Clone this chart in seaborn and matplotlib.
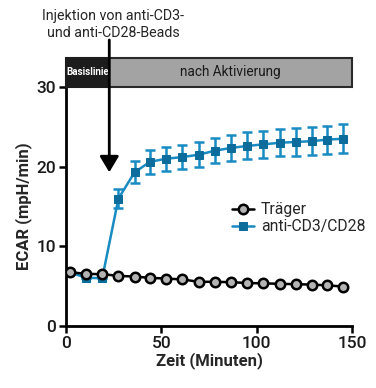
import matplotlib
matplotlib.use("Agg")
import matplotlib.pyplot as plt
import seaborn as sns
import pandas as pd
import numpy as np
from matplotlib.patches import Rectangle

time_min = [2, 10.5, 19, 27.5, 36, 44, 52.5, 61, 69.5, 78, 86.5, 95, 103.5, 112, 120.5, 129, 137, 145.5]
traeger = [6.75, 6.55, 6.5, 6.3, 6.2, 6.05, 5.95, 5.85, 5.55, 5.55, 5.5, 5.4, 5.35, 5.3, 5.25, 5.2, 5.1, 4.95]
cd3cd28 = [6.75, 6.05, 6.0, 16.0, 19.3, 20.6, 21.0, 21.2, 21.5, 22.0, 22.35, 22.6, 22.8, 23.0, 23.1, 23.2, 23.4, 23.5]
cd3cd28_err = [0, 0, 0, 1.2, 1.4, 1.5, 1.5, 1.5, 1.6, 1.6, 1.6, 1.7, 1.7, 1.7, 1.7, 1.75, 1.75, 1.8]
series_names = ["Träger", "anti-CD3/CD28"]
x_ticks = [0, 50, 100, 150]
y_ticks = [0, 10, 20, 30]
phase_labels = ["Basislinie", "nach Aktivierung"]
injection_time = 22.7

sns.set_theme(style="white")
plt.rcParams['font.family'] = ['Roboto', 'DejaVu Sans']

blue = "#0c6c9c"
blue_line = "#178bc2"

fig = plt.figure(figsize=(3.76, 3.88), dpi=100)
ax = fig.add_axes([66/376, 1-326/388, (352-66)/376, (326-87)/388])

df = pd.DataFrame({"t": time_min, series_names[0]: traeger, series_names[1]: cd3cd28})

ax.errorbar(time_min, cd3cd28, yerr=cd3cd28_err, fmt="none", ecolor=blue_line,
            elinewidth=1.8, capsize=3.5, capthick=1.8, zorder=2)
sns.lineplot(data=df, x="t", y=series_names[1], ax=ax, color=blue_line, lw=1.8,
             marker="s", markersize=6, markerfacecolor=blue, markeredgecolor=blue,
             label=series_names[1], zorder=3)
sns.lineplot(data=df, x="t", y=series_names[0], ax=ax, color="black", lw=1.8,
             marker="o", markersize=6.8, markerfacecolor="#b3b3b3", markeredgecolor="black",
             markeredgewidth=1.8, label=series_names[0], zorder=4)

ax.set_xlim(0, 150)
ax.set_ylim(0, 30)
ax.set_xticks(x_ticks)
ax.set_yticks(y_ticks)
for s in ["top", "right"]:
    ax.spines[s].set_visible(False)
for s in ["left", "bottom"]:
    ax.spines[s].set_linewidth(2)
    ax.spines[s].set_color("black")
ax.tick_params(axis="both", direction="out", length=5, width=1.8, color="black",
               labelsize=12.5, pad=2, left=True, bottom=True, labelcolor="#1a1a1a")
for lab in ax.get_xticklabels() + ax.get_yticklabels():
    lab.set_fontweight("medium")
ax.set_xlabel("Zeit (Minuten)", fontsize=12, fontweight="bold", labelpad=1)
ax.set_ylabel("ECAR (mpH/min)", fontsize=12, fontweight="bold", labelpad=3)

handles, labels = ax.get_legend_handles_labels()
order = [labels.index(series_names[0]), labels.index(series_names[1])]
ax.legend([handles[i] for i in order], [labels[i] for i in order],
          loc="upper left", bbox_to_anchor=(0.56, 0.545), frameon=False,
          fontsize=11.3, handlelength=1.4, handletextpad=0.4, labelspacing=0.15,
          borderaxespad=0)

# phase bar above the plot
y0, y1 = 30.05, 33.6
ax.add_patch(Rectangle((0, y0), injection_time, y1 - y0, facecolor="#1c1c1c",
                       edgecolor="#1c1c1c", lw=1.5, clip_on=False, zorder=5))
ax.add_patch(Rectangle((injection_time, y0), 150 - injection_time, y1 - y0,
                       facecolor="#a3a3a3", edgecolor="#2a2a2a", lw=1.5,
                       clip_on=False, zorder=5))
ax.text(injection_time / 2, (y0 + y1) / 2, phase_labels[0], color="white",
        fontsize=7, fontweight="bold", ha="center", va="center", zorder=6)
ax.text((injection_time + 150) / 2, (y0 + y1) / 2, phase_labels[1], color="#1a1a1a",
        fontsize=9.8, ha="center", va="center", zorder=6)

# injection arrow
ax.annotate("", xy=(injection_time, 19.3), xytext=(injection_time, 35.9),
            xycoords="data", textcoords="data", annotation_clip=False,
            arrowprops=dict(arrowstyle="-|>,head_width=0.48,head_length=0.8",
                            lw=2, color="black", shrinkA=0, shrinkB=0), zorder=7)
fig.text(113/376, 1-24.5/388, "Injektion von anti-CD3-\nund anti-CD28-Beads",
         ha="center", va="center", fontsize=10.3, linespacing=1.2)

fig.savefig("out.png", dpi=100)
